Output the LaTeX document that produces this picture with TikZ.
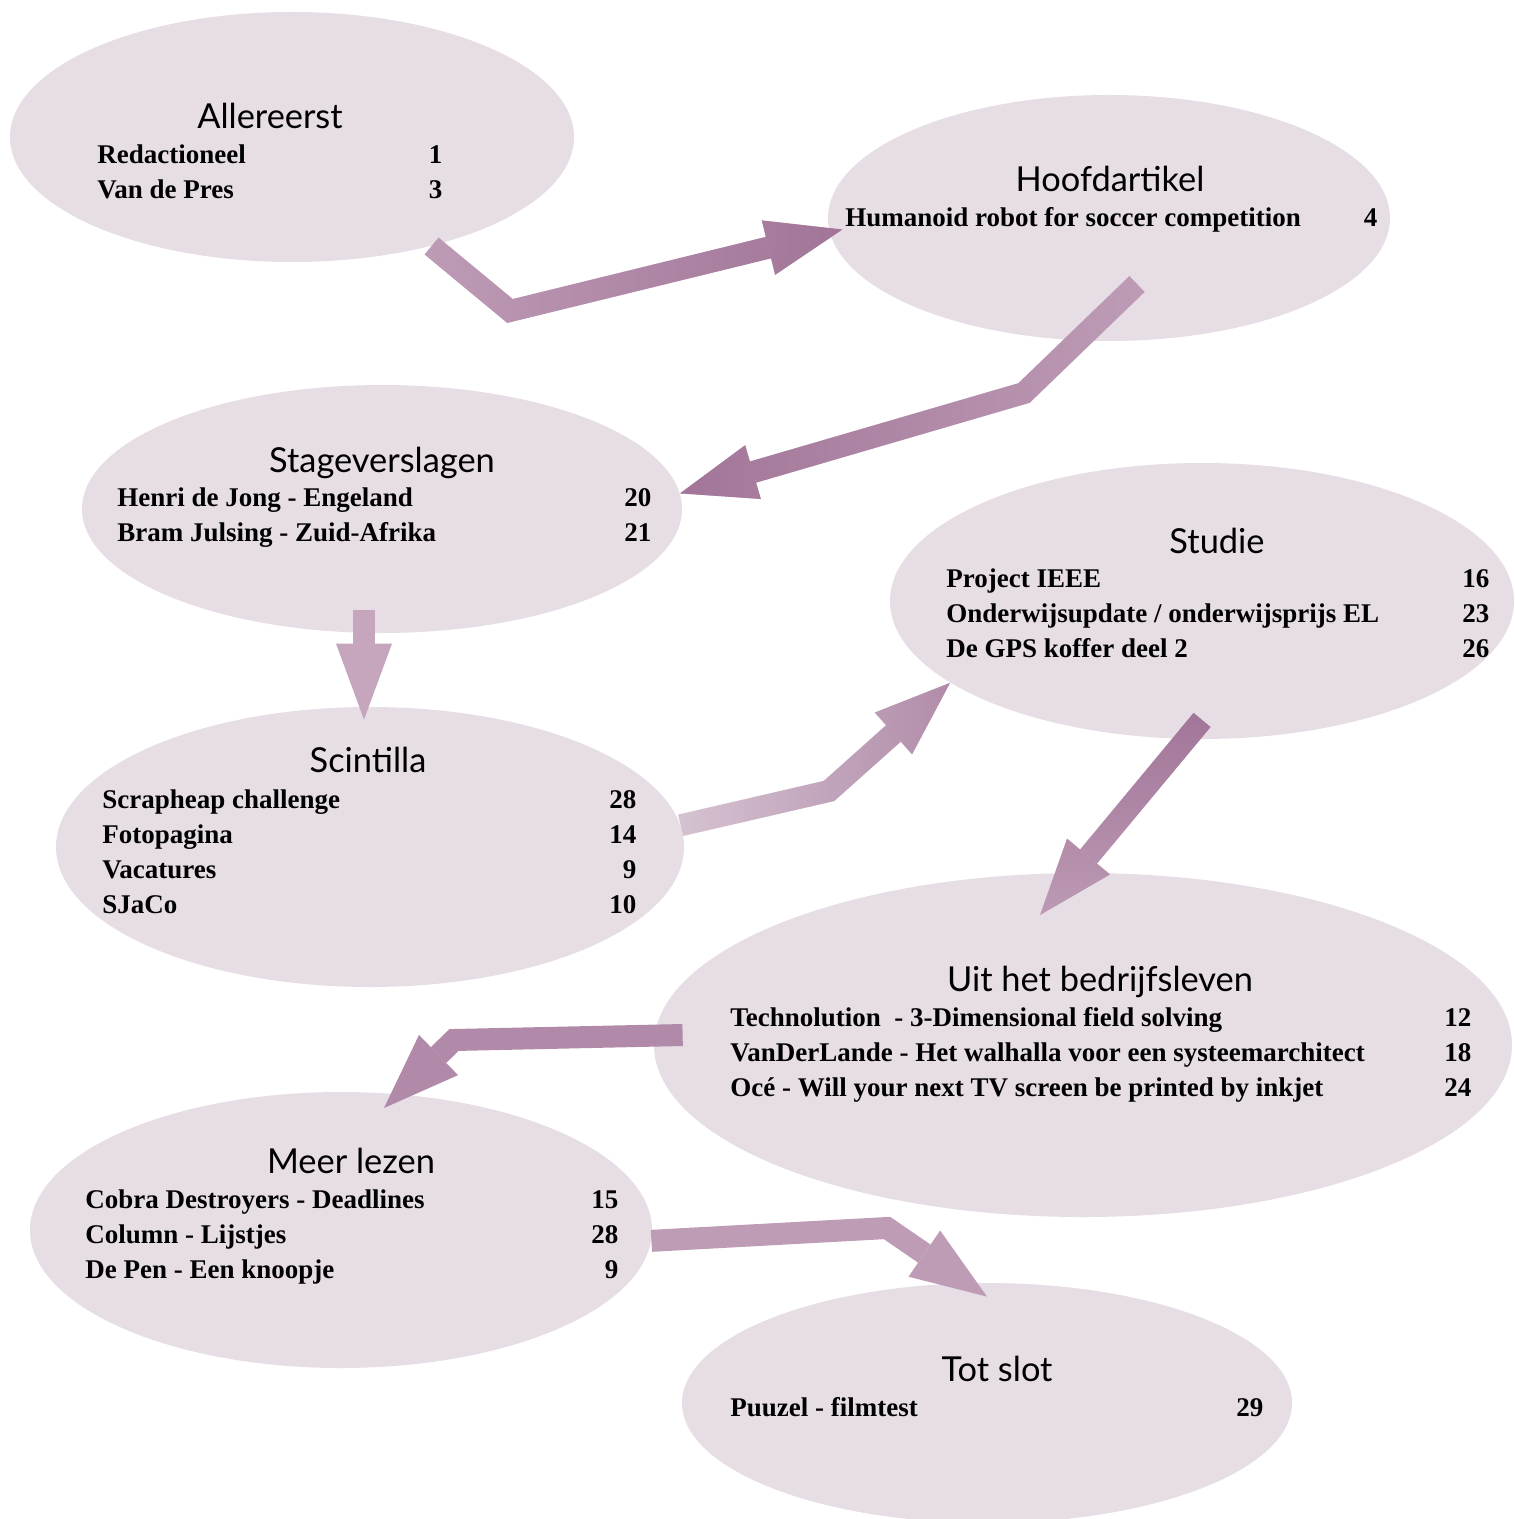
\documentclass[tikz,border=0pt]{standalone}
\usepackage{fontspec}
\setmainfont{Liberation Serif}
\newfontfamily\headfont{Lato}
\usetikzlibrary{shapes.geometric,arrows.meta,fadings}

\definecolor{bubblefill}{HTML}{E6DDE5}
\definecolor{flowdark}{HTML}{A27598}
\definecolor{flowmid}{HTML}{B08AA8}
\definecolor{flowlight}{HTML}{BE9CB6}
\definecolor{flowpale}{HTML}{D7C5D3}

\tikzfading[name=fade right,left color=transparent!100,right color=transparent!0]
\tikzfading[name=fade left,left color=transparent!0,right color=transparent!100]
\tikzfading[name=fade up,top color=transparent!0,bottom color=transparent!100]

\newcommand{\toclist}[2]{\begin{tabular*}{#1}[t]{@{}l@{\extracolsep{\fill}}r@{}}#2\end{tabular*}}

\begin{document}
\begin{tikzpicture}[x=0.5pt,y=-0.5pt,
  bubble/.style={ellipse,fill=bubblefill,inner sep=0pt},
  heading/.style={anchor=base,inner sep=0pt,font=\headfont\fontsize{17.2}{20}\selectfont},
  entries/.style={anchor=base west,inner sep=0pt,font=\bfseries\fontsize{13.5}{17.5}\selectfont},
  flow/.style={line width=11pt,-{Triangle[length=38pt,width=28pt,line width=0pt]}}]
	\useasboundingbox (0,0) rectangle (1514,1519);

	% bubbles
	\node[bubble,minimum width=282pt,minimum height=125pt] (allereerst) at (292,137) {};
	\node[bubble,minimum width=281pt,minimum height=123pt] (hoofd) at (1109,218) {};
	\node[bubble,minimum width=300pt,minimum height=124pt] (stage) at (382,509) {};
	\node[bubble,minimum width=312pt,minimum height=138pt] (studie) at (1202,601) {};
	\node[bubble,minimum width=314pt,minimum height=140pt] (scint) at (370,847) {};
	\node[bubble,minimum width=429pt,minimum height=172pt] (uit) at (1083,1045) {};
	\node[bubble,minimum width=311pt,minimum height=138pt] (meer) at (341,1230) {};
	\node[bubble,minimum width=305pt,minimum height=120pt] (tot) at (987,1403) {};

	% titles and contents
	\node[heading] (allereerst-title) at (270,129) {Allereerst};
	\node[entries] (allereerst-list) at (97,164) {\toclist{172.5pt}{Redactioneel & 1\\ Van de Pres & 3}};

	\node[heading] (hoofd-title) at (1110,192) {Hoofdartikel};
	\node[entries] (hoofd-list) at (845,227) {\toclist{266pt}{Humanoid robot for soccer competition & 4}};

	\node[heading] (stage-title) at (382,472) {Stageverslagen};
	\node[entries] (stage-list) at (117,506) {\toclist{267pt}{Henri de Jong - Engeland & 20\\ Bram Julsing - Zuid-Afrika & 21}};

	\node[heading] (studie-title) at (1217,553) {Studie};
	\node[entries] (studie-list) at (946,587) {\toclist{271.5pt}{Project IEEE & 16\\ Onderwijsupdate / onderwijsprijs EL & 23\\ De GPS koffer deel 2 & 26}};

	\node[heading] (scint-title) at (368,772) {Scintilla};
	\node[entries] (scint-list) at (102,808) {\toclist{267pt}{Scrapheap challenge & 28\\ Fotopagina & 14\\ Vacatures & 9\\ SJaCo & 10}};

	\node[heading] (uit-title) at (1100,991) {Uit het bedrijfsleven};
	\node[entries] (uit-list) at (730,1026) {\toclist{370.5pt}{Technolution\ \ - 3-Dimensional field solving & 12\\ VanDerLande - Het walhalla voor een systeemarchitect & 18\\ Océ - Will your next TV screen be printed by inkjet & 24}};

	\node[heading] (meer-title) at (351,1173) {Meer lezen};
	\node[entries] (meer-list) at (85,1208) {\toclist{266.5pt}{Cobra Destroyers - Deadlines & 15\\ Column - Lijstjes & 28\\ De Pen - Een knoopje & 9}};

	\node[heading] (tot-title) at (997,1381) {Tot slot};
	\node[entries] (tot-list) at (730,1416) {\toclist{266.5pt}{Puuzel - filmtest & 29}};

	% arrows
	\draw[flow,flowlight,shorten >=-6.5pt] (allereerst.-38) -- (510,311) -- (hoofd.183);
	\draw[flow,flowdark,shorten >=-6.5pt,path fading=fade right] (allereerst.-38) -- (510,311) -- (hoofd.183);

	\draw[flow,flowlight] ([shift={(28,66)}]hoofd.center) -- (1024,393) -- (stage.3);
	\draw[flow,flowdark,path fading=fade left] ([shift={(28,66)}]hoofd.center) -- (1024,393) -- (stage.3);

	\draw[flow,flowlight!90!white] ([shift={(-18,101)}]stage.center) -- ([shift={(-6,13)}]scint.north);

	\draw[flow,flowpale] (scint.4) -- (829,791) -- (studie.198);
	\draw[flow,flowmid,path fading=fade right] (scint.4) -- (829,791) -- (studie.198);

	\draw[flow,flowlight] ([shift={(0,119)}]studie.center) -- ([shift={(-43,-130)}]uit.center);
	\draw[flow,flowdark,path fading=fade up] ([shift={(0,119)}]studie.center) -- ([shift={(-43,-130)}]uit.center);

	\draw[flow,flowmid] ([shift={(29,-10)}]uit.west) -- (454,1040) -- ([shift={(43,-122)}]meer.center);

	\draw[flow,flowlight] (meer.-2) -- (887,1228) -- ([shift={(0,14)}]tot.north);
\end{tikzpicture}
\end{document}
